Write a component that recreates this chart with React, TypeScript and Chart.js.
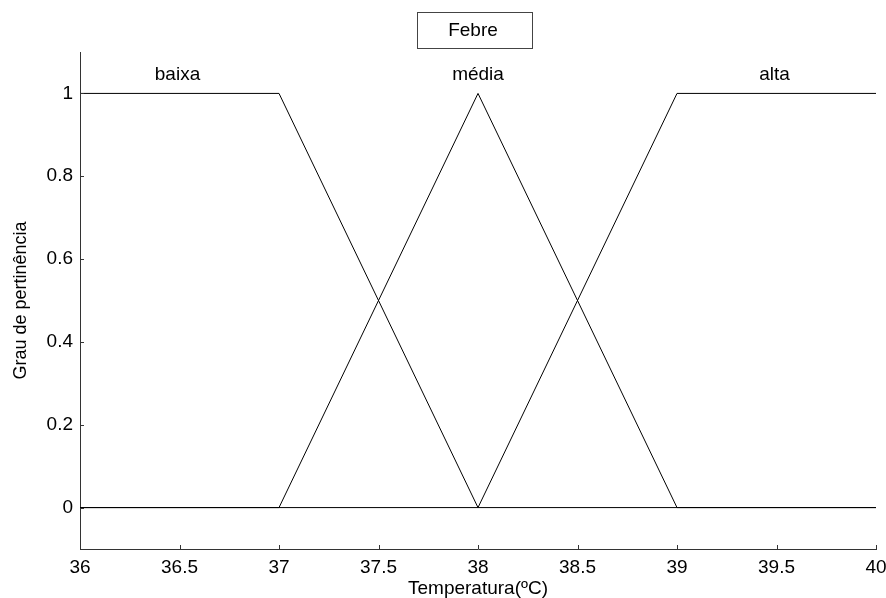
import React, { useEffect, useRef } from "react";
import { Chart, registerables } from "chart.js";

Chart.register(...registerables);

const xTicks = [36, 36.5, 37, 37.5, 38, 38.5, 39, 39.5, 40];
const yTicks = [0, 0.2, 0.4, 0.6, 0.8, 1];

const baixaX = [36, 37, 38, 40];
const baixaY = [1, 1, 0, 0];
const mediaX = [36, 37, 38, 39, 40];
const mediaY = [0, 0, 1, 0, 0];
const altaX = [36, 38, 39, 40];
const altaY = [0, 0, 1, 1];

const mfNames = ["baixa", "média", "alta"];
const mfLabelX = [36.49, 38, 39.49];
const mfLabelY = [1.046, 1.046, 1.046];

const titleText = "Febre";
const xTitle = "Temperatura(ºC)";
const yTitle = "Grau de pertinência";

const FONT = "'Liberation Sans', Arial, sans-serif";

const toPts = (xs: number[], ys: number[]) => xs.map((x, i) => ({ x, y: ys[i] }));

const decorPlugin = {
  id: "decor",
  afterDraw(chart: any) {
    const ctx = chart.ctx;
    const xs = chart.scales.x;
    const ys = chart.scales.y;
    const area = chart.chartArea;
    ctx.save();
    ctx.strokeStyle = "#333";
    ctx.lineWidth = 1;
    // inward ticks
    xTicks.forEach((v) => {
      const px = Math.round(xs.getPixelForValue(v)) + 0.5;
      ctx.beginPath();
      ctx.moveTo(px, area.bottom);
      ctx.lineTo(px, area.bottom - 4);
      ctx.stroke();
    });
    yTicks.forEach((v) => {
      const py = Math.round(ys.getPixelForValue(v)) + 0.5;
      ctx.beginPath();
      ctx.moveTo(area.left, py);
      ctx.lineTo(area.left + 4, py);
      ctx.stroke();
    });
    // MF labels
    ctx.fillStyle = "#000";
    ctx.font = `19px ${FONT}`;
    ctx.textAlign = "center";
    ctx.textBaseline = "middle";
    mfNames.forEach((n, i) => {
      ctx.fillText(n, xs.getPixelForValue(mfLabelX[i]), ys.getPixelForValue(mfLabelY[i]));
    });
    // title box
    const cx = (area.left + area.right) / 2 + 0.5;
    const bw = 115;
    const bx = Math.round(cx - bw / 2) - 4 + 0.5;
    ctx.strokeStyle = "#444";
    ctx.strokeRect(bx, 12.5, bw, 36);
    ctx.fillText(titleText, bx + bw / 2 - 2, 31);
    ctx.restore();
  },
};

export default function App() {
  const ref = useRef<HTMLCanvasElement>(null);
  useEffect(() => {
    if (!ref.current) return;
    const chart = new Chart(ref.current, {
      type: "line",
      data: {
        datasets: [
          { label: "baixa", data: toPts(baixaX, baixaY) },
          { label: "média", data: toPts(mediaX, mediaY) },
          { label: "alta", data: toPts(altaX, altaY) },
        ].map((d) => ({
          ...d,
          borderColor: "#000",
          borderWidth: 1,
          pointRadius: 0,
          fill: false,
          tension: 0,
        })),
      },
      options: {
        animation: false,
        responsive: false,
        devicePixelRatio: 1,
        layout: { padding: { top: 52, right: 10, left: 0, bottom: 0 } },
        plugins: { legend: { display: false }, tooltip: { enabled: false }, title: { display: false } },
        scales: {
          x: {
            type: "linear",
            min: 36,
            max: 40,
            afterFit: (s: any) => {
              s.height = 49;
              s.paddingLeft = 0;
              s.paddingRight = 0;
            },
            afterBuildTicks: (s: any) => {
              s.ticks = xTicks.map((v) => ({ value: v }));
            },
            grid: { display: false, drawTicks: false },
            border: { display: true, color: "#333", width: 1 },
            ticks: {
              color: "#000",
              padding: 7,
              maxRotation: 0,
              autoSkip: false,
              font: { family: FONT, size: 19 },
              callback: (v: any) => String(v),
            },
            title: {
              display: true,
              text: xTitle,
              color: "#000",
              font: { family: FONT, size: 19, lineHeight: 1.2 },
              padding: { top: 0, bottom: -2 },
            },
          },
          y: {
            type: "linear",
            min: -0.1,
            max: 1.1,
            afterFit: (s: any) => {
              s.width = 80;
              s.paddingTop = 0;
              s.paddingBottom = 0;
            },
            afterBuildTicks: (s: any) => {
              s.ticks = yTicks.map((v) => ({ value: v }));
            },
            grid: { display: false, drawTicks: false },
            border: { display: true, color: "#333", width: 1 },
            ticks: {
              color: "#000",
              padding: 7,
              autoSkip: false,
              font: { family: FONT, size: 19 },
              callback: (v: any) => String(Math.round(v * 10) / 10),
            },
            title: {
              display: true,
              text: yTitle,
              color: "#000",
              font: { family: FONT, size: 18, lineHeight: 1.2 },
              padding: { top: 10, bottom: 0 },
            },
          },
        },
      },
      plugins: [decorPlugin],
    } as any);
    return () => chart.destroy();
  }, []);
  return (
    <div style={{ position: "fixed", left: 0, top: 0, width: 886, height: 598, background: "#fff" }}>
      <canvas ref={ref} width={886} height={598} style={{ width: 886, height: 598 }} />
    </div>
  );
}
